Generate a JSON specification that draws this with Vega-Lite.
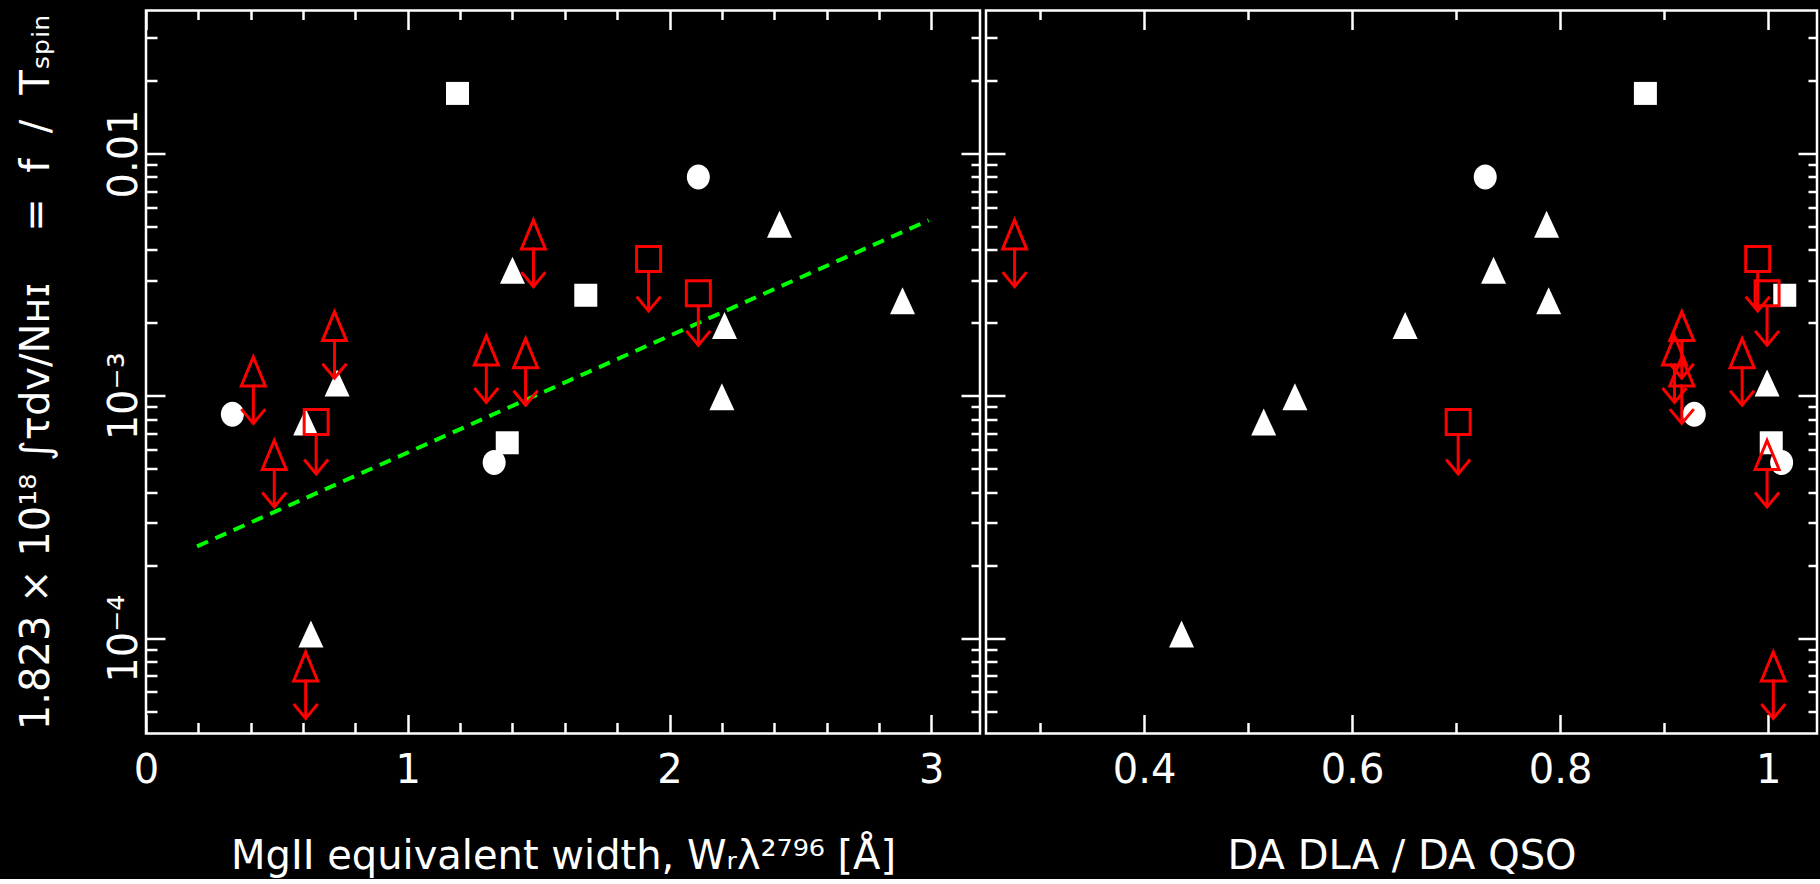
{
  "$schema": "https://vega.github.io/schema/vega-lite/v6.json",
  "background": "black",
  "padding": {"left": 15, "top": 7.5, "right": 0, "bottom": 0},
  "spacing": 0,
  "config": {
    "view": {"stroke": "white", "strokeWidth": 2.5},
    "axis": {"grid": false, "domain": false, "labelColor": "white", "titleColor": "white", "tickColor": "white", "tickWidth": 2.5, "labelFont": "DejaVu Sans", "titleFont": "DejaVu Sans", "titleFontWeight": "normal", "labelFontSize": 40, "titleFontSize": 40, "labelOverlap": false, "labelFlush": false},
    "concat": {"spacing": 0}
  },
  "datasets": {
    "pts": [
      {"W": 1.19, "DA": 0.882, "f": 0.0177, "shape": "sq", "lim": false},
      {"W": 2.11, "DA": 0.728, "f": 0.0080, "shape": "circ", "lim": false},
      {"W": 2.42, "DA": 0.787, "f": 0.0051, "shape": "tri", "lim": false},
      {"W": 1.40, "DA": 0.736, "f": 0.0033, "shape": "tri", "lim": false},
      {"W": 1.68, "DA": 1.016, "f": 0.0026, "shape": "sq", "lim": false},
      {"W": 2.89, "DA": 0.789, "f": 0.00247, "shape": "tri", "lim": false},
      {"W": 2.21, "DA": 0.651, "f": 0.00195, "shape": "tri", "lim": false},
      {"W": 0.73, "DA": 0.999, "f": 0.00113, "shape": "tri", "lim": false},
      {"W": 2.20, "DA": 0.545, "f": 0.00099, "shape": "tri", "lim": false},
      {"W": 0.33, "DA": 0.929, "f": 0.00084, "shape": "circ", "lim": false},
      {"W": 0.61, "DA": 0.515, "f": 0.00078, "shape": "tri", "lim": false},
      {"W": 1.38, "DA": 1.003, "f": 0.00064, "shape": "sq", "lim": false},
      {"W": 1.33, "DA": 1.013, "f": 0.00053, "shape": "circ", "lim": false},
      {"W": 0.63, "DA": 0.436, "f": 0.000104, "shape": "tri", "lim": false},
      {"W": 1.48, "DA": 0.2755, "f": 0.00463, "shape": "tri", "lim": true},
      {"W": 1.92, "DA": 0.990, "f": 0.00367, "shape": "sq", "lim": true},
      {"W": 2.11, "DA": 0.999, "f": 0.00265, "shape": "sq", "lim": true},
      {"W": 0.72, "DA": 0.917, "f": 0.00194, "shape": "tri", "lim": true},
      {"W": 1.30, "DA": 0.910, "f": 0.00154, "shape": "tri", "lim": true},
      {"W": 1.45, "DA": 0.975, "f": 0.00150, "shape": "tri", "lim": true},
      {"W": 0.41, "DA": 0.917, "f": 0.00126, "shape": "tri", "lim": true},
      {"W": 0.65, "DA": 0.702, "f": 0.00078, "shape": "sq", "lim": true},
      {"W": 0.49, "DA": 0.999, "f": 0.00057, "shape": "tri", "lim": true},
      {"W": 0.61, "DA": 1.005, "f": 0.0000764, "shape": "tri", "lim": true}
    ],
    "fit": [
      {"W": 0.195, "f": 0.000239},
      {"W": 2.99, "f": 0.0053}
    ]
  },
  "hconcat": [
    {
      "width": 834,
      "height": 723,
      "layer": [
        {
          "data": {"name": "fit"},
          "mark": {"type": "line", "color": "#00ff00", "strokeWidth": 4, "strokeDash": [12, 8]},
          "encoding": {
            "x": {"field": "W", "type": "quantitative", "scale": {"domain": [0, 3.186], "nice": false, "zero": false},
              "axis": {"orient": "bottom", "offset": -19, "tickSize": 19, "values": [0, 1, 2, 3], "format": "d", "labelPadding": 17, "title": "MgII equivalent width, Wᵣλ²⁷⁹⁶ [Å]", "titleBaseline": "alphabetic", "titlePadding": 78}},
            "y": {"field": "f", "type": "quantitative", "scale": {"type": "log", "domain": [0.0000404, 0.03892], "nice": false},
              "axis": {"orient": "left", "offset": -19, "tickSize": 19, "values": [0.0001, 0.001, 0.01], "labelExpr": "datum.value > 0.005 ? '0.01' : datum.value > 0.0005 ? '10⁻³' : '10⁻⁴'", "labelAngle": 270, "labelAlign": "center", "labelBaseline": "alphabetic", "labelPadding": 9.5, "title": "1.823 × 10¹⁸ ∫τdv/Nʜɪ \u00a0\u00a0\u00a0= \u00a0f \u00a0/ \u00a0Tₛₚᵢₙ", "titleAngle": 270, "titleBaseline": "alphabetic", "titlePadding": 56}}
          }
        },
        {
          "data": {"name": "pts"},
          "transform": [{"filter": "!datum.lim"}],
          "mark": {"type": "point", "filled": true, "fill": "white", "opacity": 1, "strokeWidth": 0},
          "encoding": {
            "x": {"field": "W", "type": "quantitative", "scale": {"domain": [0, 3.186], "nice": false, "zero": false},
              "axis": {"orient": "bottom", "offset": -11, "tickSize": 11, "labels": false, "title": null, "values": [0.2, 0.4, 0.6, 0.8, 1.2, 1.4, 1.6, 1.8, 2.2, 2.4, 2.6, 2.8]}},
            "y": {"field": "f", "type": "quantitative", "scale": {"type": "log", "domain": [0.0000404, 0.03892], "nice": false},
              "axis": {"orient": "left", "offset": -11, "tickSize": 11, "labels": false, "title": null, "values": [0.00005, 0.00006, 0.00007, 0.00008, 0.00009, 0.0002, 0.0003, 0.0004, 0.0005, 0.0006, 0.0007, 0.0008, 0.0009, 0.002, 0.003, 0.004, 0.005, 0.006, 0.007, 0.008, 0.009, 0.02, 0.03]}},
            "shape": {"field": "shape", "type": "nominal", "legend": null, "scale": {"domain": ["tri", "circ", "sq"], "range": ["M0,-1.08L1,1.08L-1,1.08Z", "M0.92,0A0.92,1 0 1,1 -0.92,0A0.92,1 0 1,1 0.92,0Z", "M-0.92,-0.92H0.92V0.92H-0.92Z"]}},
            "size": {"value": 625}
          }
        },
        {
          "data": {"name": "pts"},
          "transform": [{"filter": "datum.lim"}],
          "mark": {"type": "point", "filled": false, "stroke": "#ff0000", "strokeWidth": 3, "opacity": 1},
          "encoding": {
            "x": {"field": "W", "type": "quantitative", "scale": {"domain": [0, 3.186], "nice": false, "zero": false},
              "axis": {"orient": "top", "offset": -19, "tickSize": 19, "labels": false, "title": null, "values": [0, 1, 2, 3]}},
            "y": {"field": "f", "type": "quantitative", "scale": {"type": "log", "domain": [0.0000404, 0.03892], "nice": false},
              "axis": {"orient": "right", "offset": -19, "tickSize": 19, "labels": false, "title": null, "values": [0.0001, 0.001, 0.01]}},
            "shape": {"field": "shape", "type": "nominal", "legend": null, "scale": {"domain": ["tri", "sq"], "range": ["M0,-1.16L0.96,1.16L-0.96,1.16Z", "M-0.96,-1H0.96V1H-0.96Z"]}},
            "size": {"value": 625}
          }
        },
        {
          "data": {"name": "pts"},
          "transform": [{"filter": "datum.lim"}],
          "mark": {"type": "rule", "color": "#ff0000", "strokeWidth": 3, "yOffset": 13, "y2Offset": 51},
          "encoding": {
            "x": {"field": "W", "type": "quantitative", "scale": {"domain": [0, 3.186], "nice": false, "zero": false},
              "axis": {"orient": "top", "offset": -9, "tickSize": 9, "labels": false, "title": null, "values": [0.2, 0.4, 0.6, 0.8, 1.2, 1.4, 1.6, 1.8, 2.2, 2.4, 2.6, 2.8]}},
            "y": {"field": "f", "type": "quantitative", "scale": {"type": "log", "domain": [0.0000404, 0.03892], "nice": false},
              "axis": {"orient": "right", "offset": -9, "tickSize": 9, "labels": false, "title": null, "values": [0.00005, 0.00006, 0.00007, 0.00008, 0.00009, 0.0002, 0.0003, 0.0004, 0.0005, 0.0006, 0.0007, 0.0008, 0.0009, 0.002, 0.003, 0.004, 0.005, 0.006, 0.007, 0.008, 0.009, 0.02, 0.03]}},
            "y2": {"field": "f"}
          }
        },
        {
          "data": {"name": "pts"},
          "transform": [{"filter": "datum.lim"}],
          "mark": {"type": "point", "shape": "M-1,-1.2L0,0L1,-1.2", "filled": false, "stroke": "#ff0000", "strokeWidth": 3, "opacity": 1, "size": 576, "yOffset": 52},
          "encoding": {
            "x": {"field": "W", "type": "quantitative", "scale": {"domain": [0, 3.186], "nice": false, "zero": false}, "axis": null},
            "y": {"field": "f", "type": "quantitative", "scale": {"type": "log", "domain": [0.0000404, 0.03892], "nice": false}, "axis": null}
          }
        }
      ],
      "resolve": {"axis": {"x": "independent", "y": "independent"}, "scale": {"shape": "independent"}}
    },
    {
      "width": 831,
      "height": 723,
      "data": {"name": "pts"},
      "layer": [
        {
          "transform": [{"filter": "!datum.lim"}],
          "mark": {"type": "point", "filled": true, "fill": "white", "opacity": 1, "strokeWidth": 0},
          "encoding": {
            "x": {"field": "DA", "type": "quantitative", "scale": {"domain": [0.248, 1.047], "nice": false, "zero": false},
              "axis": {"orient": "bottom", "offset": -19, "tickSize": 19, "values": [0.4, 0.6, 0.8, 1.0], "format": ".1~f", "labelPadding": 17, "title": "DA DLA / DA QSO", "titleBaseline": "alphabetic", "titlePadding": 78}},
            "y": {"field": "f", "type": "quantitative", "scale": {"type": "log", "domain": [0.0000404, 0.03892], "nice": false},
              "axis": {"orient": "left", "offset": -19, "tickSize": 19, "labels": false, "title": null, "values": [0.0001, 0.001, 0.01]}},
            "shape": {"field": "shape", "type": "nominal", "legend": null, "scale": {"domain": ["tri", "circ", "sq"], "range": ["M0,-1.08L1,1.08L-1,1.08Z", "M0.92,0A0.92,1 0 1,1 -0.92,0A0.92,1 0 1,1 0.92,0Z", "M-0.92,-0.92H0.92V0.92H-0.92Z"]}},
            "size": {"value": 625}
          }
        },
        {
          "transform": [{"filter": "datum.lim"}],
          "mark": {"type": "point", "filled": false, "stroke": "#ff0000", "strokeWidth": 3, "opacity": 1},
          "encoding": {
            "x": {"field": "DA", "type": "quantitative", "scale": {"domain": [0.248, 1.047], "nice": false, "zero": false},
              "axis": {"orient": "bottom", "offset": -11, "tickSize": 11, "labels": false, "title": null, "values": [0.3, 0.5, 0.7, 0.9]}},
            "y": {"field": "f", "type": "quantitative", "scale": {"type": "log", "domain": [0.0000404, 0.03892], "nice": false},
              "axis": {"orient": "left", "offset": -11, "tickSize": 11, "labels": false, "title": null, "values": [0.00005, 0.00006, 0.00007, 0.00008, 0.00009, 0.0002, 0.0003, 0.0004, 0.0005, 0.0006, 0.0007, 0.0008, 0.0009, 0.002, 0.003, 0.004, 0.005, 0.006, 0.007, 0.008, 0.009, 0.02, 0.03]}},
            "shape": {"field": "shape", "type": "nominal", "legend": null, "scale": {"domain": ["tri", "sq"], "range": ["M0,-1.16L0.96,1.16L-0.96,1.16Z", "M-0.96,-1H0.96V1H-0.96Z"]}},
            "size": {"value": 625}
          }
        },
        {
          "transform": [{"filter": "datum.lim"}],
          "mark": {"type": "rule", "color": "#ff0000", "strokeWidth": 3, "yOffset": 13, "y2Offset": 51},
          "encoding": {
            "x": {"field": "DA", "type": "quantitative", "scale": {"domain": [0.248, 1.047], "nice": false, "zero": false},
              "axis": {"orient": "top", "offset": -19, "tickSize": 19, "labels": false, "title": null, "values": [0.4, 0.6, 0.8, 1.0]}},
            "y": {"field": "f", "type": "quantitative", "scale": {"type": "log", "domain": [0.0000404, 0.03892], "nice": false},
              "axis": {"orient": "right", "offset": -19, "tickSize": 19, "labels": false, "title": null, "values": [0.0001, 0.001, 0.01]}},
            "y2": {"field": "f"}
          }
        },
        {
          "transform": [{"filter": "datum.lim"}],
          "mark": {"type": "point", "shape": "M-1,-1.2L0,0L1,-1.2", "filled": false, "stroke": "#ff0000", "strokeWidth": 3, "opacity": 1, "size": 576, "yOffset": 52},
          "encoding": {
            "x": {"field": "DA", "type": "quantitative", "scale": {"domain": [0.248, 1.047], "nice": false, "zero": false},
              "axis": {"orient": "top", "offset": -9, "tickSize": 9, "labels": false, "title": null, "values": [0.3, 0.5, 0.7, 0.9]}},
            "y": {"field": "f", "type": "quantitative", "scale": {"type": "log", "domain": [0.0000404, 0.03892], "nice": false},
              "axis": {"orient": "right", "offset": -9, "tickSize": 9, "labels": false, "title": null, "values": [0.00005, 0.00006, 0.00007, 0.00008, 0.00009, 0.0002, 0.0003, 0.0004, 0.0005, 0.0006, 0.0007, 0.0008, 0.0009, 0.002, 0.003, 0.004, 0.005, 0.006, 0.007, 0.008, 0.009, 0.02, 0.03]}}
          }
        }
      ],
      "resolve": {"axis": {"x": "independent", "y": "independent"}, "scale": {"shape": "independent"}}
    }
  ]
}
